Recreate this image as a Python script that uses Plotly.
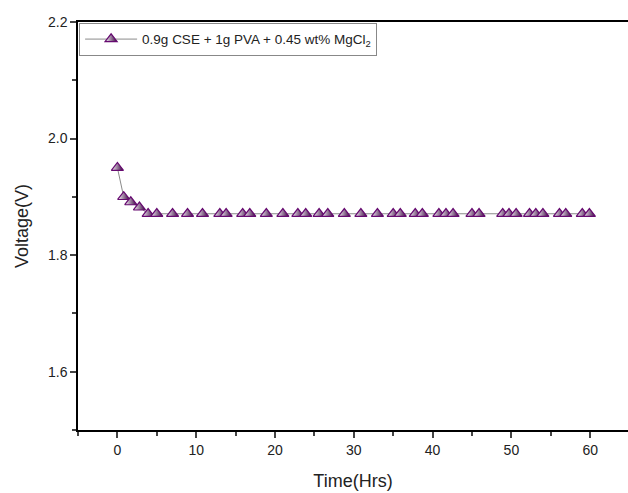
import plotly.graph_objects as go

# Data
time_hrs = [0, 0.8, 1.7, 2.8, 3.9, 5, 7, 8.9, 10.8, 13, 13.8, 15.9, 16.8, 18.9, 21,
            22.9, 23.9, 25.6, 26.7, 28.8, 30.9, 33, 35, 35.9, 37.8, 38.7, 40.8, 41.7,
            42.6, 45, 45.9, 48.9, 49.7, 50.6, 52.3, 53.1, 54, 56.1, 56.9, 59, 59.9]
voltage = [1.95, 1.90, 1.891, 1.882] + [1.871] * (len(time_hrs) - 4)
series_name = '0.9g CSE + 1g PVA + 0.45 wt% MgCl<sub>2</sub>'

font = 'Arial, Liberation Sans, sans-serif'
purple = '#35003b'

fig = go.Figure()
# half filled triangles: white on the left, dark purple on the right
fig.add_trace(go.Scatter(
    x=time_hrs, y=voltage, mode='lines+markers', name=series_name,
    line=dict(color='#8a8a8a', width=1),
    marker=dict(symbol='triangle-up', size=10.5, color='#fbf7fb',
                gradient=dict(type='horizontal', color=purple),
                line=dict(color='#660a70', width=1.2)),
))

fig.update_xaxes(
    range=[-5, 64.8], showline=True, linecolor='black', linewidth=1.5, mirror=True,
    showgrid=False, zeroline=False, ticks='outside', ticklen=6, tickwidth=1.5,
    tickvals=[0, 10, 20, 30, 40, 50, 60],
    minor=dict(tickvals=[-5, 5, 15, 25, 35, 45, 55], ticks='outside', ticklen=4, tickwidth=1.5),
    tickfont=dict(size=14, color='#222'),
    title=dict(text='Time(Hrs)', font=dict(size=18, color='#222'), standoff=18),
)
fig.update_yaxes(
    range=[1.5, 2.2], showline=True, linecolor='black', linewidth=1.5,
    showgrid=False, zeroline=False, ticks='outside', ticklen=6, tickwidth=1.5,
    tickvals=[1.6, 1.8, 2.0, 2.2], tickformat='.1f',
    minor=dict(tickvals=[1.5, 1.7, 1.9, 2.1], ticks='outside', ticklen=4, tickwidth=1.5),
    tickfont=dict(size=14, color='#222'),
    title=dict(text='Voltage(V)', font=dict(size=18, color='#222'), standoff=15),
)
fig.update_layout(
    width=628, height=493,
    margin=dict(l=78, r=0, t=22, b=63),
    plot_bgcolor='white', paper_bgcolor='white',
    font=dict(family=font, color='#222'),
    showlegend=True,
    legend=dict(x=0.002, y=0.998, xanchor='left', yanchor='top',
                bordercolor='#888', borderwidth=1, bgcolor='white',
                font=dict(size=13.5, color='#222'), itemwidth=52,
                tracegroupgap=0),
)

fig.write_html('out.html', config={'displayModeBar': False},
               post_script="document.body.style.margin='0';")
